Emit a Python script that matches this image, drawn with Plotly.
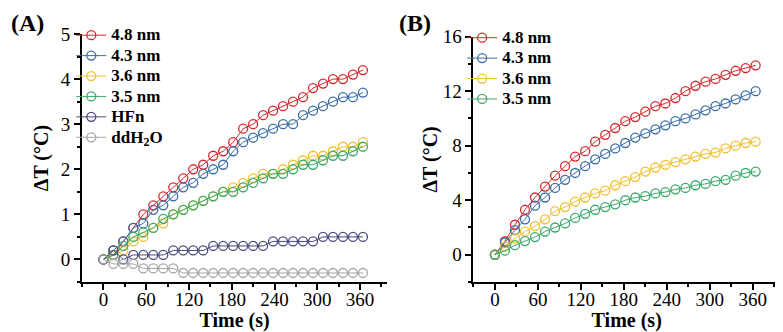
import plotly.graph_objects as go

# ---- data ----
time_s = [0, 14, 28, 42, 56, 70, 84, 98, 112, 126, 140, 154, 168, 182, 196,
          210, 224, 238, 252, 266, 280, 294, 308, 322, 336, 350, 364]

a_48 = [0, 0.1, 0.4, 0.7, 1.0, 1.2, 1.4, 1.6, 1.8, 2.0, 2.1, 2.3, 2.4, 2.6, 2.9,
        3.0, 3.2, 3.3, 3.4, 3.5, 3.6, 3.8, 3.9, 4.0, 4.0, 4.1, 4.2]
a_43 = [0, 0.2, 0.4, 0.7, 0.8, 1.1, 1.2, 1.4, 1.6, 1.7, 1.9, 2.0, 2.1, 2.4, 2.6,
        2.7, 2.8, 2.9, 3.0, 3.0, 3.2, 3.3, 3.4, 3.5, 3.6, 3.6, 3.7]
a_36 = [0, 0.1, 0.2, 0.4, 0.5, 0.7, 0.8, 1.0, 1.1, 1.2, 1.3, 1.4, 1.5, 1.6, 1.7,
        1.8, 1.9, 1.9, 2.0, 2.1, 2.2, 2.3, 2.3, 2.4, 2.5, 2.5, 2.6]
a_35 = [0, 0.1, 0.3, 0.5, 0.6, 0.7, 0.9, 1.0, 1.1, 1.2, 1.3, 1.4, 1.5, 1.5, 1.6,
        1.7, 1.8, 1.9, 1.9, 2.0, 2.1, 2.1, 2.2, 2.3, 2.3, 2.4, 2.5]
a_hfn = [0, 0.2, 0, 0.1, 0.1, 0.1, 0.1, 0.2, 0.2, 0.2, 0.2, 0.3, 0.3, 0.3, 0.3,
         0.3, 0.3, 0.4, 0.4, 0.4, 0.4, 0.4, 0.5, 0.5, 0.5, 0.5, 0.5]
a_h2o = [0, -0.1, -0.1, -0.1, -0.2, -0.2, -0.2, -0.2, -0.3, -0.3, -0.3, -0.3, -0.3, -0.3, -0.3,
         -0.3, -0.3, -0.3, -0.3, -0.3, -0.3, -0.3, -0.3, -0.3, -0.3, -0.3, -0.3]

b_48 = [0, 1.0, 2.2, 3.3, 4.2, 5.0, 5.8, 6.5, 7.2, 7.6, 8.3, 8.8, 9.3, 9.8, 10.1,
        10.5, 10.9, 11.1, 11.5, 12.0, 12.4, 12.7, 12.9, 13.2, 13.5, 13.7, 13.9]
b_43 = [0, 0.9, 1.8, 2.6, 3.6, 4.2, 4.9, 5.5, 6.0, 6.5, 7.0, 7.4, 7.8, 8.2, 8.6,
        8.9, 9.2, 9.5, 9.8, 10.0, 10.3, 10.6, 10.9, 11.1, 11.4, 11.7, 12.0]
b_36 = [0, 0.6, 1.2, 1.7, 2.1, 2.6, 3.2, 3.5, 3.9, 4.2, 4.5, 4.7, 5.1, 5.4, 5.7,
        6.1, 6.4, 6.6, 6.8, 7.0, 7.2, 7.4, 7.5, 7.8, 8.0, 8.2, 8.3]
b_35 = [0, 0.3, 0.7, 1.0, 1.3, 1.7, 2.0, 2.3, 2.7, 3.0, 3.3, 3.5, 3.7, 4.0, 4.2,
        4.3, 4.5, 4.6, 4.8, 4.9, 5.1, 5.2, 5.4, 5.5, 5.8, 6.0, 6.1]

names_a = ["4.8 nm", "4.3 nm", "3.6 nm", "3.5 nm", "HFn", "ddH<sub>2</sub>O"]
names_b = ["4.8 nm", "4.3 nm", "3.6 nm", "3.5 nm"]
colors = ["#d42a2e", "#3b6ea6", "#f0c030", "#3caa6c", "#4a4a7c", "#a6a6a6"]

FONT = "Liberation Serif"

# ---- geometry (page pixels; page body has an 8px margin) ----
OFF = 8
W, H = 783 - OFF, 332 - OFF
L = 81.7 - OFF            # left of panel A
R = W - (780 - OFF)       # right margin
T = 34 - OFF              # top of panel A
B = H - (281.7 - OFF)     # bottom margin
PW = W - L - R
PH = H - T - B


def px(xp):
    return (xp - OFF - L) / PW


def py(yp):
    return (H - B - (yp - OFF)) / PH


fig = go.Figure()


def add(x, y, name, color, xa, ya, leg):
    fig.add_trace(go.Scatter(
        x=x, y=y, mode="lines+markers", xaxis=xa, yaxis=ya, legend=leg,
        name='<span style="font-size:17px"><b>%s</b></span>' % name,
        line=dict(color=color, width=1),
        marker=dict(symbol="circle-open", size=9, color=color, line=dict(width=1.3, color=color)),
    ))


for ys, nm, c in zip([a_48, a_43, a_36, a_35, a_hfn, a_h2o], names_a, colors):
    add(time_s, ys, nm, c, "x", "y", "legend")
for ys, nm, c in zip([b_48, b_43, b_36, b_35], names_b, colors):
    add(time_s, ys, nm, c, "x2", "y2", "legend2")


def xaxis(domain, anchor):
    return dict(domain=domain, anchor=anchor, range=[-30, 398], tickmode="linear", tick0=0, dtick=60,
                ticks="outside", ticklen=6, tickwidth=1.8, tickcolor="black",
                minor=dict(ticks="outside", ticklen=3, tickwidth=1.5, tickcolor="black", dtick=30, tick0=0),
                showline=True, linewidth=2, linecolor="black", showgrid=False, zeroline=False,
                tickfont=dict(family=FONT, size=19, color="black"), ticklabelstandoff=-7,
                title=dict(text="<b>Time (s)</b>", font=dict(family=FONT, size=20, color="black"), standoff=3),
                automargin=False)


def yaxis(domain, anchor, rng, dt, mdt, so):
    return dict(domain=domain, anchor=anchor, range=rng, tickmode="linear", tick0=0, dtick=dt,
                ticks="outside", ticklen=6, tickwidth=1.8, tickcolor="black",
                minor=dict(ticks="outside", ticklen=3, tickwidth=1.5, tickcolor="black", dtick=mdt, tick0=0),
                showline=True, linewidth=2, linecolor="black", showgrid=False, zeroline=False,
                tickfont=dict(family=FONT, size=19, color="black"),
                title=dict(text="<b>ΔT (°C)</b>", font=dict(family=FONT, size=20, color="black"), standoff=so),
                automargin=False)


leg_font = dict(family=FONT, size=13.4, color="black")

fig.update_layout(
    width=W, height=H, autosize=False,
    margin=dict(l=L, r=R, t=T, b=B, pad=0),
    paper_bgcolor="white", plot_bgcolor="white",
    font=dict(family=FONT, color="black"),
    xaxis=xaxis([0, px(387)], "y"),
    xaxis2=xaxis([px(473.3), 1], "y2"),
    yaxis=yaxis([0, 1], "x", [-0.5, 5], 1, 0.5, 7),
    yaxis2=yaxis([0, py(36.7)], "x2", [-2, 16], 4, 2, 0),
    legend=dict(x=px(71), y=py(20), xanchor="left", yanchor="top",
                font=leg_font, bgcolor="rgba(0,0,0,0)",
                borderwidth=0, itemwidth=30, tracegroupgap=0),
    legend2=dict(x=px(462), y=py(22.5), xanchor="left", yanchor="top",
                 font=leg_font, bgcolor="rgba(0,0,0,0)",
                 borderwidth=0, itemwidth=30, tracegroupgap=0),
    annotations=[
        dict(text="<b>(A)</b>", x=px(9), y=py(23.5), xref="paper", yref="paper",
             xanchor="left", yanchor="middle", showarrow=False,
             font=dict(family=FONT, size=24, color="black")),
        dict(text="<b>(B)</b>", x=px(397), y=py(23.5), xref="paper", yref="paper",
             xanchor="left", yanchor="middle", showarrow=False,
             font=dict(family=FONT, size=24, color="black")),
    ],
)

fig.write_html("out.html")
